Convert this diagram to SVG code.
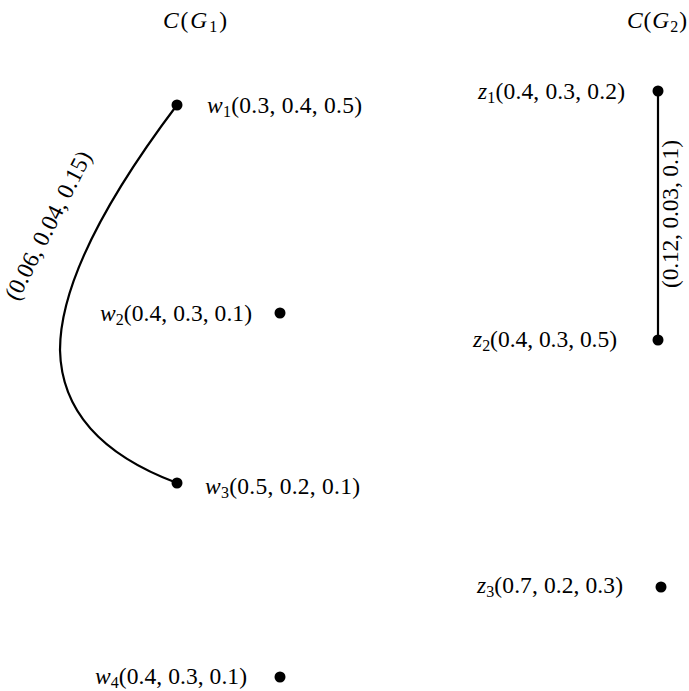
<svg xmlns="http://www.w3.org/2000/svg" width="689" height="691" viewBox="0 0 689 691">
<style>
text{font-family:"Liberation Serif","DejaVu Serif",serif;font-size:23.5px;fill:#000}
.i{font-style:italic}
.s{font-size:16px}
.dot{fill:#000}
.edge{fill:none;stroke:#000;stroke-width:2.2}
</style>
<rect width="689" height="691" fill="#fff"/>
<g id="title1"><text x="163" y="28" textLength="64" lengthAdjust="spacing"><tspan class="i">C</tspan>(<tspan class="i">G</tspan><tspan class="s" dy="4">1</tspan><tspan dy="-4">)</tspan></text></g>
<g id="title2"><text x="627" y="28" textLength="60" lengthAdjust="spacing"><tspan class="i">C</tspan>(<tspan class="i">G</tspan><tspan class="s" dy="4">2</tspan><tspan dy="-4">)</tspan></text></g>
<g id="connectors">
<path class="edge" d="M177,105 Q60,260 60,350 Q62,440 177,483"/>
<text transform="translate(55,229) rotate(-63)" text-anchor="middle" textLength="164" lengthAdjust="spacing">(0.06, 0.04, 0.15)</text>
<line class="edge" x1="658" y1="91" x2="658" y2="340"/>
<text transform="translate(678,214) rotate(-90)" text-anchor="middle" textLength="148" lengthAdjust="spacing">(0.12, 0.03, 0.1)</text>
</g>
<g id="w1"><circle class="dot" cx="177" cy="105" r="5.5"/><text x="207" y="113" textLength="155" lengthAdjust="spacing"><tspan class="i">w</tspan><tspan class="s" dy="4">1</tspan><tspan dy="-4">(0.3, 0.4, 0.5)</tspan></text></g>
<g id="w2"><circle class="dot" cx="280" cy="313" r="5.5"/><text x="100" y="321" textLength="152" lengthAdjust="spacing"><tspan class="i">w</tspan><tspan class="s" dy="4">2</tspan><tspan dy="-4">(0.4, 0.3, 0.1)</tspan></text></g>
<g id="w3"><circle class="dot" cx="177" cy="483" r="5.5"/><text x="205" y="494" textLength="155" lengthAdjust="spacing"><tspan class="i">w</tspan><tspan class="s" dy="4">3</tspan><tspan dy="-4">(0.5, 0.2, 0.1)</tspan></text></g>
<g id="w4"><circle class="dot" cx="280" cy="677" r="5.5"/><text x="95" y="684" textLength="152" lengthAdjust="spacing"><tspan class="i">w</tspan><tspan class="s" dy="4">4</tspan><tspan dy="-4">(0.4, 0.3, 0.1)</tspan></text></g>
<g id="z1"><circle class="dot" cx="658" cy="91" r="5.5"/><text x="478" y="99" textLength="147" lengthAdjust="spacing"><tspan class="i">z</tspan><tspan class="s" dy="4">1</tspan><tspan dy="-4">(0.4, 0.3, 0.2)</tspan></text></g>
<g id="z2"><circle class="dot" cx="658" cy="340" r="5.5"/><text x="473" y="347" textLength="144" lengthAdjust="spacing"><tspan class="i">z</tspan><tspan class="s" dy="4">2</tspan><tspan dy="-4">(0.4, 0.3, 0.5)</tspan></text></g>
<g id="z3"><circle class="dot" cx="661" cy="587" r="5.5"/><text x="477" y="593" textLength="146" lengthAdjust="spacing"><tspan class="i">z</tspan><tspan class="s" dy="4">3</tspan><tspan dy="-4">(0.7, 0.2, 0.3)</tspan></text></g>
</svg>
